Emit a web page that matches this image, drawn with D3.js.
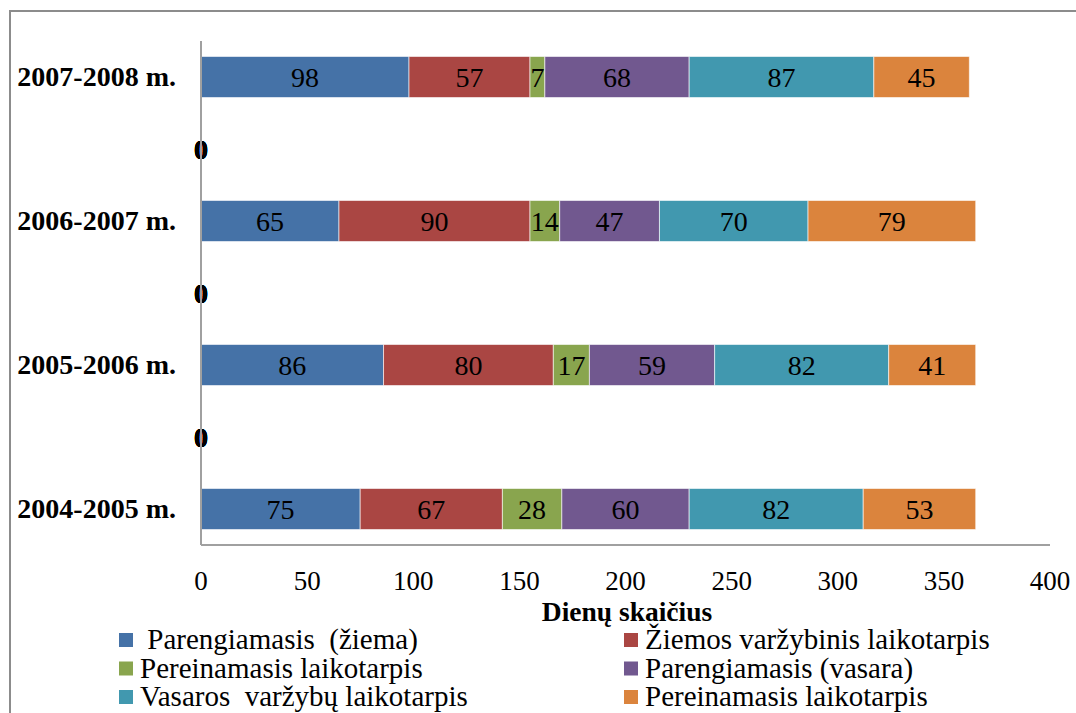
<!DOCTYPE html>
<html>
<head>
<meta charset="utf-8">
<script src="https://cdn.jsdelivr.net/npm/d3@7"></script>
<style>
  html, body { margin: 0; padding: 0; background: #fff; }
  svg { display: block; }
  text { font-family: "Liberation Serif", "Times New Roman", serif; }
</style>
</head>
<body>
<svg id="chart" width="1076" height="713"></svg>
<script>
// Categories (bottom to top); empty rows are spacer categories with zero values
const categories = ["2004-2005 m.", "", "2005-2006 m.", "", "2006-2007 m.", "", "2007-2008 m."];
const seriesNames = [" Parengiamasis  (žiema)", "Žiemos varžybinis laikotarpis", "Pereinamasis laikotarpis",
                     "Parengiamasis (vasara)", "Vasaros  varžybų laikotarpis", "Pereinamasis laikotarpis"];
const seriesColors = ["#4572A7", "#AA4643", "#89A54E", "#71588F", "#4198AF", "#DB843D"];
const parengiamasisZiema = [75, 0, 86, 0, 65, 0, 98];
const ziemosVarzybinis  = [67, 0, 80, 0, 90, 0, 57];
const pereinamasis1     = [28, 0, 17, 0, 14, 0, 7];
const parengiamasisVasara = [60, 0, 59, 0, 47, 0, 68];
const vasarosVarzybu    = [82, 0, 82, 0, 70, 0, 87];
const pereinamasis2     = [53, 0, 41, 0, 79, 0, 45];
const xTicks = [0, 50, 100, 150, 200, 250, 300, 350, 400];
const axisTitle = "Dienų skaičius";

const seriesValues = [parengiamasisZiema, ziemosVarzybinis, pereinamasis1, parengiamasisVasara, vasarosVarzybu, pereinamasis2];

const svg = d3.select("#chart");

// outer chart border
svg.append("rect").attr("x", 10).attr("y", 11).attr("width", 1100).attr("height", 760)
  .attr("fill", "none").attr("stroke", "#8c8c8c").attr("stroke-width", 2);

const x = d3.scaleLinear().domain([0, 400]).range([201, 1050]);
const y = d3.scaleBand().domain(d3.range(categories.length)).range([545, 41]).paddingInner(0.43).paddingOuter(0.215);

// build stacked data
const rows = categories.map((c, i) => {
  const o = { idx: i, cat: c };
  seriesValues.forEach((s, k) => o["s" + k] = s[i]);
  return o;
});
const keys = seriesValues.map((s, k) => "s" + k);
const stacked = d3.stack().keys(keys)(rows);

const g = svg.append("g");
stacked.forEach((layer, k) => {
  const lg = g.append("g");
  lg.selectAll("rect").data(layer.filter(d => d[1] - d[0] > 0)).join("rect")
    .attr("x", d => x(d[0]))
    .attr("y", d => y(d.data.idx))
    .attr("width", d => x(d[1]) - x(d[0]))
    .attr("height", y.bandwidth())
    .attr("fill", seriesColors[k])
    .attr("stroke", "#ffffff").attr("stroke-opacity", 0.6).attr("stroke-width", 1);
});

// axes lines
svg.append("line").attr("x1", x(0)).attr("x2", x(0)).attr("y1", 41).attr("y2", 545)
  .attr("stroke", "#a0a0a0").attr("stroke-width", 2);
svg.append("line").attr("x1", x(0)).attr("x2", x(400)).attr("y1", 545).attr("y2", 545)
  .attr("stroke", "#a0a0a0").attr("stroke-width", 2);

// data labels
stacked.forEach((layer, k) => {
  g.append("g").selectAll("text").data(layer).join("text")
    .attr("x", d => (x(d[0]) + x(d[1])) / 2)
    .attr("y", d => y(d.data.idx) + y.bandwidth() / 2 + 9.5)
    .attr("text-anchor", "middle")
    .attr("font-size", 28)
    .attr("font-weight", d => (d[1] - d[0]) === 0 ? "bold" : "normal")
    .attr("fill", "#000")
    .text(d => d[1] - d[0]);
});

// category labels
svg.append("g").selectAll("text").data(categories).join("text")
  .attr("x", 176)
  .attr("y", (c, i) => y(i) + y.bandwidth() / 2 + 9)
  .attr("text-anchor", "end")
  .attr("font-size", 28).attr("font-weight", "bold")
  .text(c => c);

// x tick labels
svg.append("g").selectAll("text").data(xTicks).join("text")
  .attr("x", d => x(d)).attr("y", 590)
  .attr("text-anchor", "middle").attr("font-size", 27)
  .text(d => d);

// axis title
svg.append("text").attr("x", 627).attr("y", 621).attr("text-anchor", "middle")
  .attr("font-size", 27.5).attr("font-weight", "bold").text(axisTitle);

// legend
const leg = svg.append("g");
seriesNames.forEach((name, k) => {
  const col = k % 2, row = Math.floor(k / 2);
  const sx = col === 0 ? 119 : 624;
  const by = 649 + row * 28.5;
  leg.append("rect").attr("x", sx).attr("y", by - 16).attr("width", 14).attr("height", 14)
    .attr("fill", seriesColors[k]);
  leg.append("text").attr("x", sx + 21).attr("y", by)
    .attr("font-size", 29).attr("xml:space", "preserve").style("white-space", "pre")
    .text(name);
});
</script>
</body>
</html>
